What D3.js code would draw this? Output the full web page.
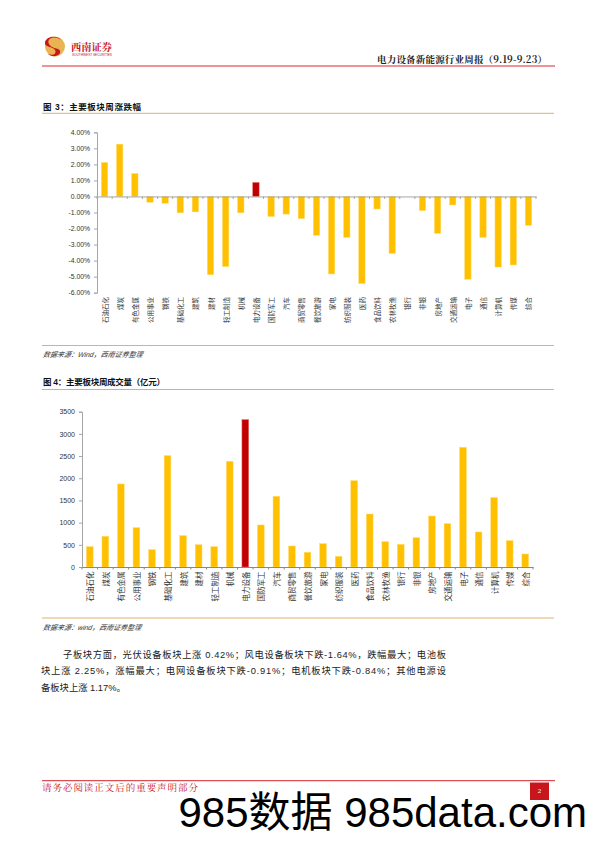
<!DOCTYPE html>
<html><head><meta charset="utf-8">
<script src="https://cdn.jsdelivr.net/npm/d3@7"></script>
<style>body{margin:0;background:#fff}svg{display:block}</style>
</head><body>
<svg id="page" width="596" height="843"></svg>
<script>
// ---- data ----
const sectors = ["石油石化","煤炭","有色金属","公用事业","钢铁","基础化工","建筑","建材","轻工制造","机械","电力设备","国防军工","汽车","商贸零售","餐饮旅游","家电","纺织服装","医药","食品饮料","农林牧渔","银行","非银","房地产","交通运输","电子","通信","计算机","传媒","综合"];
const weeklyChange = [2.12,3.26,1.43,-0.36,-0.42,-1.02,-0.96,-4.88,-4.37,-1.02,0.87,-1.25,-1.10,-1.38,-2.42,-4.83,-2.55,-5.43,-0.78,-3.55,0.00,-0.88,-2.30,-0.53,-5.16,-2.55,-4.40,-4.27,-1.80];
const turnover = [458,691,1871,886,391,2509,706,503,458,2382,3320,947,1593,473,331,526,240,1946,1194,571,511,661,1149,977,2697,789,1563,594,293];
const changeTicks = [4,3,2,1,0,-1,-2,-3,-4,-5,-6];
const turnoverTicks = [0,500,1000,1500,2000,2500,3000,3500];
const highlight = "电力设备";
const paragraph = [
  "子板块方面，光伏设备板块上涨 0.42%；风电设备板块下跌-1.64%，跌幅最大；电池板",
  "块上涨  2.25%，涨幅最大；电网设备板块下跌-0.91%；电机板块下跌-0.84%；其他电源设",
  "备板块上涨 1.17%。"
];

const GOLD = "#FFC000", RED = "#C00000", AXIS = "#A6A6A6", RULE = "#DDB173";
const CJK = "'Noto Sans CJK SC', sans-serif";
const LAT = "'Liberation Sans', Arial, sans-serif";
const MIX = "'Liberation Sans', Arial, 'Noto Sans CJK SC', sans-serif";
const svg = d3.select("#page");

// ---- header ----
const logo = svg.append("g");
logo.append("circle").attr("cx",55).attr("cy",46.5).attr("r",10).attr("fill","#E9B553");
logo.append("path").attr("d","M61,40 C55,35 46,38 49,44 C52,50 62,47 60,53 C58,57 51,57 48,54 C53,56 57,54 55,50 C53,46 44,48 45,42 C47,36 57,35 61,40 Z").attr("fill","#C8161D");
svg.append("text").attr("x",71).attr("y",46).attr("dominant-baseline","central")
  .attr("font-family","'Noto Serif CJK SC','Noto Sans CJK SC',sans-serif").attr("font-weight","bold")
  .attr("font-size",10.5).attr("fill","#C8161D").attr("textLength",41).attr("lengthAdjust","spacingAndGlyphs").text("西南证券");
svg.append("text").attr("x",72).attr("y",54.5).attr("dominant-baseline","central")
  .attr("font-family",LAT).attr("font-size",3.2).attr("fill","#C8161D").attr("textLength",40).text("SOUTHWEST SECURITIES");
svg.append("text").attr("x",547).attr("y",58.5).attr("text-anchor","end").attr("dominant-baseline","central")
  .attr("font-family","'Noto Serif CJK SC','Noto Sans CJK SC',sans-serif").attr("font-weight","bold").attr("font-size",9.5)
  .attr("fill","#222").attr("textLength",170).attr("lengthAdjust","spacing").text("电力设备新能源行业周报（9.19-9.23）");
svg.append("line").attr("x1",42).attr("x2",555).attr("y1",66).attr("y2",66).attr("stroke","#D9262E").attr("stroke-width",1);

// ---- section helpers ----
function title(y, txt, w){
  svg.append("text").attr("x",43).attr("y",y).attr("dominant-baseline","central")
    .attr("font-family",MIX).attr("font-weight","bold").attr("font-size",8.5).attr("fill","#111")
    .attr("textLength",w).attr("lengthAdjust","spacing").text(txt);
}
function rule(y){
  svg.append("line").attr("x1",42).attr("x2",554).attr("y1",y).attr("y2",y).attr("stroke",RULE).attr("stroke-width",1);
}
function source(y, txt){
  svg.append("text").attr("x",43).attr("y",y).attr("dominant-baseline","central")
    .attr("font-family",MIX).attr("font-style","italic").attr("font-size",7).attr("fill","#333")
    .attr("transform",`skewX(-12) translate(${y*Math.tan(12*Math.PI/180)},0)`).text(txt);
}

// ---- chart 1 ----
title(106.5, "图 3：主要板块周涨跌幅", 98);
rule(113.3);
{
  const x = d3.scaleBand().domain(sectors).range([97,536]);
  const y = d3.scaleLinear().domain([-6,4]).range([292.7,132.3]);
  const g = svg.append("g");
  const ya = g.append("g").attr("transform","translate(97,0)")
    .call(d3.axisLeft(y).tickValues(changeTicks).tickSize(3).tickPadding(4).tickFormat(d=>d.toFixed(2)+"%"));
  ya.selectAll("path,line").attr("stroke",AXIS);
  ya.selectAll("text").attr("font-family",LAT).attr("font-size",6.8).attr("fill","#333");
  const bw = x.bandwidth()*0.42;
  g.selectAll("rect.b").data(sectors).join("rect")
    .attr("x",d=>x(d)+(x.bandwidth()-bw)/2)
    .attr("y",(d,i)=>y(Math.max(0,weeklyChange[i])))
    .attr("width",bw)
    .attr("height",(d,i)=>Math.abs(y(weeklyChange[i])-y(0)))
    .attr("fill",d=>d===highlight?RED:GOLD)
    .attr("stroke",d=>d===highlight?"#E06060":"#FFD966").attr("stroke-width",0.5);
  const xa = g.append("g").attr("transform",`translate(0,${y(0)})`)
    .call(d3.axisBottom(x).tickSize(0).tickFormat(""));
  xa.select("path").attr("stroke",AXIS);
  g.selectAll("line.t").data(sectors.concat(["_end"])).join("line")
    .attr("x1",(d,i)=>x.range()[0]+i*x.step()).attr("x2",(d,i)=>x.range()[0]+i*x.step())
    .attr("y1",y(0)).attr("y2",y(0)+2.5).attr("stroke",AXIS);
  g.selectAll("text.l").data(sectors).join("text")
    .attr("transform",d=>`translate(${x(d)+x.bandwidth()/2},297) rotate(-90)`)
    .attr("text-anchor","end").attr("dominant-baseline","central")
    .attr("font-family",CJK).attr("font-size",6.5).attr("fill","#333").text(d=>d);
}
rule(345.5);
source(355, "数据来源：Wind，西南证券整理");

// ---- chart 2 ----
title(382, "图 4：主要板块周成交量（亿元）", 122);
rule(389.5);
{
  const x = d3.scaleBand().domain(sectors).range([82,533]);
  const y = d3.scaleLinear().domain([0,3500]).range([567,411.7]);
  const g = svg.append("g");
  const ya = g.append("g").attr("transform","translate(82,0)")
    .call(d3.axisLeft(y).tickValues(turnoverTicks).tickSize(3).tickPadding(4).tickFormat(d3.format("d")));
  ya.selectAll("path,line").attr("stroke",AXIS);
  ya.selectAll("text").attr("font-family",LAT).attr("font-size",7).attr("fill","#333");
  const bw = x.bandwidth()*0.43;
  g.selectAll("rect.b").data(sectors).join("rect")
    .attr("x",d=>x(d)+(x.bandwidth()-bw)/2)
    .attr("y",(d,i)=>y(turnover[i]))
    .attr("width",bw)
    .attr("height",(d,i)=>y(0)-y(turnover[i]))
    .attr("fill",d=>d===highlight?RED:GOLD)
    .attr("stroke",d=>d===highlight?"#E06060":"#FFD966").attr("stroke-width",0.5);
  const xa = g.append("g").attr("transform",`translate(0,${y(0)})`)
    .call(d3.axisBottom(x).tickSize(0).tickFormat(""));
  xa.select("path").attr("stroke","#888");
  g.selectAll("line.t").data(sectors.concat(["_end"])).join("line")
    .attr("x1",(d,i)=>x.range()[0]+i*x.step()).attr("x2",(d,i)=>x.range()[0]+i*x.step())
    .attr("y1",y(0)).attr("y2",y(0)+2.5).attr("stroke","#888");
  g.selectAll("text.l").data(sectors).join("text")
    .attr("transform",d=>`translate(${x(d)+x.bandwidth()/2},571.5) rotate(-90)`)
    .attr("text-anchor","end").attr("dominant-baseline","central")
    .attr("font-family",CJK).attr("font-size",7.5).attr("fill","#333").text(d=>d);
}
rule(618);
source(627.5, "数据来源：wind，西南证券整理");

// ---- paragraph ----
const para = [[63,654.5,383],[41,671,405],[41,687.5,null]];
paragraph.forEach((t,i)=>{
  const [px,py,w] = para[i];
  const tx = svg.append("text").attr("x",px).attr("y",py).attr("dominant-baseline","central")
    .attr("font-family",MIX).attr("font-size",9.3).attr("fill","#222").text(t);
  if(w) tx.attr("textLength",w).attr("lengthAdjust","spacing");
});

// ---- footer ----
svg.append("line").attr("x1",42).attr("x2",555).attr("y1",780.7).attr("y2",780.7).attr("stroke","#D9262E").attr("stroke-width",1);
svg.append("text").attr("x",42).attr("y",787).attr("dominant-baseline","central")
  .attr("font-family","'Noto Serif CJK SC','Noto Sans CJK SC',sans-serif").attr("font-size",9.5).attr("fill","#C8161D")
  .attr("textLength",156).attr("lengthAdjust","spacing").text("请务必阅读正文后的重要声明部分");
svg.append("rect").attr("x",530).attr("y",782.5).attr("width",19).attr("height",17.5).attr("fill","#C8161D");
svg.append("text").attr("x",539.5).attr("y",791).attr("text-anchor","middle").attr("dominant-baseline","central")
  .attr("font-family","'Liberation Serif',serif").attr("font-size",7).attr("fill","#fff").text("2");
svg.append("text").attr("x",587).attr("y",827).attr("text-anchor","end")
  .attr("font-family","'Liberation Sans',Arial,'Noto Sans CJK SC',sans-serif").attr("font-size",42).attr("fill","#000")
  .text("985数据 985data.com");
</script>
</body></html>
